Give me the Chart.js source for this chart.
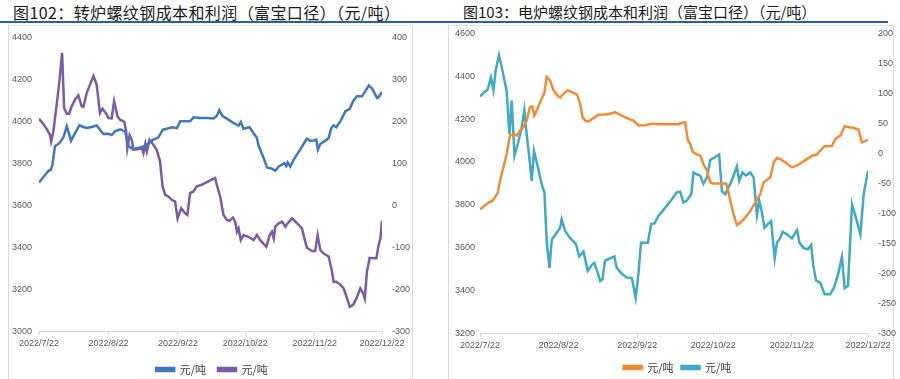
<!DOCTYPE html>
<html>
<head>
<meta charset="utf-8">
<script src="https://cdn.jsdelivr.net/npm/chart.js@4"></script>
<style>
  body { margin: 0; background: #fff; width: 900px; height: 379px; overflow: hidden; position: relative; font-family: "Noto Sans CJK SC", sans-serif; }
  .title { position: absolute; color: #1a1a1a; white-space: nowrap; }
  .rule { position: absolute; left: 0; top: 21px; width: 888px; height: 2px; background: #2b5ea8; }
  .box { position: absolute; top: 25px; height: 360px; border-left: 1px solid #dadada; border-right: 1px solid #dadada; border-top: 1px solid #e6e6e6; }
  canvas { position: absolute; }
</style>
</head>
<body>
<div class="title" style="left:13px; top:0px; font-size:16px; letter-spacing:0.4px;">图102：转炉螺纹钢成本和利润（富宝口径）（元/吨）</div>
<div class="title" style="left:463px; top:1px; font-size:15px;">图103：电炉螺纹钢成本和利润（富宝口径）（元/吨）</div>
<div class="rule"></div>
<div class="box" style="left:8px; width:403px;"></div>
<div class="box" style="left:448px; width:444px;"></div>
<canvas id="leftChart" width="404" height="367" style="left:8px; top:22px;"></canvas>
<canvas id="rightChart" width="452" height="371" style="left:448px; top:18px;"></canvas>
<script>
// tick labels on the date axis (days counted from 2022/7/22)
const tickDates = ['2022/7/22', '2022/8/22', '2022/9/22', '2022/10/22', '2022/11/22', '2022/12/22'];
const tickDays = [0, 31, 62, 92, 123, 153];
const seriesNames = ['元/吨', '元/吨'];

// 图102 转炉: cost (left axis) and profit (right axis)
const leftCostDays = [0,2.5,4.2,5.2,6,7.1,9.1,10.9,12.4,14.3,16.1,18,19.8,21.3,23.5,25.7,26.6,28.7,31,32.4,33.9,36.2,38.4,40,42.1,45.1,46.9,48.8,51,53.3,55.2,57,59.2,61.5,63,65.2,67.4,68.9,71.9,74.9,77.8,79.3,80.4,82,83.8,86.8,89,90,91.2,93.9,95.7,97.2,97.9,100.2,101.7,103.9,105.4,106.9,108.4,109.4,110.3,110.9,112.1,113.6,115,116.5,118,119.5,121,122.5,123.7,124.4,125.5,127.7,129.2,130.4,131.4,132.6,134.4,136.7,138.6,140.1,141.8,144.1,145.6,147.1,148.6,150.8,151.5,153];
const leftCost = [3709,3742,3764,3768,3793,3881,3896,3924,3976,3908,3944,3981,3973,3968,3973,3980,3968,3940,3941,3935,3952,3962,3952,3881,3868,3876,3881,3894,3913,3924,3960,3965,3972,3968,4000,4000,4000,4019,4016,4016,4014,4026,4053,4024,4013,3992,3980,3997,3965,3972,3944,3921,3886,3825,3780,3774,3764,3785,3793,3800,3787,3804,3785,3817,3841,3865,3892,3917,3908,3909,3913,3865,3892,3908,3921,3968,3981,3972,4000,4048,4059,4096,4120,4120,4144,4171,4156,4112,4115,4140];
const leftProfitDays = [0,1.9,3.4,4.9,5.4,6.4,7.9,9.1,10.3,11.2,12.4,13.4,14.6,16.1,17.6,19,19.8,21.3,22.8,24.3,25.7,27.2,28.3,29.5,31,32.4,33.5,35,36.2,38,38.9,39.4,40.4,41.4,42.1,44.4,45.9,46.6,47.4,48.1,49.3,51,52.5,54,55.1,56.3,57.7,59.2,60.7,61.8,63.4,65.2,66.2,67.4,68.9,70.4,72.6,74.9,77.1,78.6,79.3,80.8,81.6,82.3,83.8,85,86.5,87.5,88.3,89,90,91.2,93.4,95.7,97.2,98.7,101.4,102.9,103.9,104.7,105.4,106.9,108.4,109.9,110.9,112.9,114.4,115.9,117.3,118.4,119.5,121.8,123.2,124.3,125.5,127,129.2,130.7,131.4,132.6,134.4,135.9,137.4,138.6,140.1,141.6,143.3,144.6,145.3,146.3,147.5,149.3,150.5,151.5,152.3,153];
const leftProfit = [206,194,182,168,152,176,240,296,363,232,218,218,236,252,262,236,234,268,288,308,288,220,230,222,208,207,248,212,204,199,176,136,167,156,132,134,136,124,146,128,156,144,132,105,45,25,21,13,9,-31,-7,-19,-23,29,33,45,49,55,61,65,49,21,-3,-23,-35,-37,-29,-39,-63,-55,-83,-71,-75,-83,-71,-83,-99,-71,-63,-79,-51,-43,-39,-51,-43,-31,-39,-47,-55,-79,-101,-109,-109,-71,-107,-115,-122,-158,-182,-182,-189,-198,-222,-242,-237,-222,-198,-210,-222,-158,-125,-126,-126,-95,-79,-37];

// 图103 电炉: cost (left axis) and profit (right axis)
const rightCostDays = [0,1.7,3.3,4.9,5.9,7,7.9,9.2,10.5,11.8,13.2,14.5,15.8,17.1,18.4,19.7,20.7,21.4,22.4,23.7,25.4,26.3,27.6,29,30.9,31.6,32.9,34.6,36.2,38.2,39.5,40.4,41.7,43,44.7,46.7,49.1,51.3,53.3,55.3,57.9,60.5,62.5,65.1,67.8,70.4,74.3,78.3,79.9,80.9,82,82.9,83.8,85.1,86.9,88.1,89.5,90.8,92.1,94.7,97.1,97.7,98.7,100,101.3,102.6,104.6,106.6,108.5,110.5,111.8,113.1,114.5,115.8,117.1,118.4,120.4,123,125,127,128.9,130.9,132.9,134.2,135.8,138.8,140.1,142.1,143.8,145.4,147.3,149.3,150.6,152,153];
const rightCost = [3779,3794,3810,3818,3834,3857,3912,3974,4037,4123,4131,4123,4146,4162,4193,4256,4259,4217,4240,4279,4322,4397,4381,4334,4306,4300,4318,4334,4326,4315,4272,4209,4190,4190,4204,4220,4221,4225,4232,4220,4204,4193,4170,4171,4178,4176,4176,4176,4184,4185,4099,4084,4049,4037,4029,3990,3959,3904,3899,3899,3899,3873,3818,3755,3705,3716,3740,3771,3810,3849,3904,3915,3927,3998,4018,4013,3998,3974,3982,3998,4013,4029,4034,4053,4073,4074,4107,4123,4167,4162,4159,4150,4092,4097,4104];
const rightProfitDays = [0,1.7,3,4.3,5.3,6.2,7.5,8.8,10.5,11.6,12.5,13.6,14.9,16.2,17.5,18.4,19.3,20.4,21.3,22.8,24.3,25.4,26.3,27.4,28.3,30.3,31.6,32.2,33.6,35.5,37.8,39.1,40.8,42.5,44.1,45.1,46.4,47.4,48.3,49.3,51.3,53,53.9,54.6,55.9,57.9,59.9,61.4,62.5,63.5,64.8,66.2,67.5,68.8,70.4,73,75.6,77.6,78.9,80.2,81.5,83.3,84.2,85.5,86.8,88.1,89.5,90.8,92.5,94.3,95.4,96.7,98,99.3,101.3,102.2,103.5,104.8,106.6,107.9,109.2,110.1,110.9,112.2,113.5,114.8,116.2,117.1,118.4,119.3,121,123,125,126,127.6,129.3,130.6,131.3,132.5,134.2,135.9,138.1,139.5,141.2,142.7,143.8,145.1,146.7,148.6,150,151.3,153];
const rightProfit = [95,102,106,126,105,139,164,139,104,32,88,-4,16,38,72,32,-1,-46,4,-23,-51,-65,-146,-191,-144,-132,-124,-110,-130,-141,-151,-172,-164,-196,-186,-183,-199,-213,-210,-179,-175,-172,-191,-194,-201,-207,-208,-241,-199,-149,-149,-149,-118,-117,-104,-91,-77,-65,-64,-82,-79,-68,-32,-35,-37,-51,-40,-11,-7,-2,-63,-68,-57,-45,-22,-46,-32,-37,-32,-40,-103,-79,-93,-124,-118,-113,-175,-149,-141,-131,-135,-142,-128,-149,-158,-160,-153,-184,-212,-216,-235,-235,-225,-202,-173,-225,-221,-85,-113,-135,-68,-29];

const tickFont = { family: '"Liberation Sans", sans-serif', size: 9 };
const tickColor = '#595959';

function toPoints(days, vals) {
    const n = Math.min(days.length, vals.length);
    const pts = [];
    for (let i = 0; i < n; i++) pts.push({ x: days[i], y: vals[i] });
    return pts;
}

function makeChart(id, cfg) {
    const ctx = document.getElementById(id).getContext('2d');
    return new Chart(ctx, {
        type: 'line',
        data: {
            datasets: [
                {
                    label: seriesNames[0],
                    data: toPoints(cfg.costDays, cfg.cost),
                    borderColor: cfg.colors[0],
                    backgroundColor: cfg.colors[0],
                    borderWidth: 2.5,
                    pointRadius: 0,
                    yAxisID: 'y'
                },
                {
                    label: seriesNames[1],
                    data: toPoints(cfg.profitDays, cfg.profit),
                    borderColor: cfg.colors[1],
                    backgroundColor: cfg.colors[1],
                    borderWidth: 2.5,
                    pointRadius: 0,
                    yAxisID: 'y1'
                }
            ]
        },
        options: {
            responsive: false,
            animation: false,
            layout: { padding: { top: cfg.padTop, bottom: cfg.padBottom, left: cfg.padLeft, right: 0 } },
            plugins: {
                tooltip: { enabled: false },
                legend: {
                    position: 'bottom',
                    labels: {
                        boxWidth: 18,
                        boxHeight: 3,
                        padding: cfg.legendPad,
                        color: '#404040',
                        font: { family: '"Noto Sans CJK SC", sans-serif', size: 11 }
                    }
                }
            },
            scales: {
                x: {
                    type: 'linear',
                    min: 0,
                    max: 153,
                    afterBuildTicks: (s) => { s.ticks = tickDays.map(v => ({ value: v })); },
                    ticks: {
                        autoSkip: false,
                        maxRotation: 0,
                        padding: 3,
                        color: tickColor,
                        font: tickFont,
                        callback: (v) => tickDates[tickDays.indexOf(v)]
                    },
                    grid: { drawOnChartArea: false, drawTicks: true, tickLength: 4, color: '#d9d9d9' },
                    border: { color: '#d9d9d9' }
                },
                y: {
                    position: 'left',
                    min: cfg.yMin,
                    max: cfg.yMax,
                    ticks: { stepSize: 200, crossAlign: 'far', color: tickColor, font: tickFont, callback: (v) => String(v) },
                    grid: { display: false, drawTicks: false },
                    border: { display: false },
                    afterFit: (s) => { s.width = cfg.leftW; }
                },
                y1: {
                    position: 'right',
                    min: cfg.y1Min,
                    max: cfg.y1Max,
                    ticks: { stepSize: cfg.y1Step, padding: 10, color: tickColor, font: tickFont, callback: (v) => String(v) },
                    grid: { display: false, drawTicks: false },
                    border: { display: false },
                    afterFit: (s) => { s.width = cfg.rightW; }
                }
            }
        }
    });
}

window.onload = () => {
    makeChart('leftChart', {
        costDays: leftCostDays, cost: leftCost,
        profitDays: leftProfitDays, profit: leftProfit,
        colors: ['#3f78c2', '#7b5aa6'],
        yMin: 3000, yMax: 4400,
        y1Min: -300, y1Max: 400, y1Step: 100,
        padLeft: 4, leftW: 27, rightW: 30, padTop: 5, padBottom: 4, legendPad: 12
    });
    makeChart('rightChart', {
        costDays: rightCostDays, cost: rightCost,
        profitDays: rightProfitDays, profit: rightProfit,
        colors: ['#f58a34', '#3eaac6'],
        yMin: 3200, yMax: 4600,
        y1Min: -300, y1Max: 200, y1Step: 50,
        padLeft: 7, leftW: 25, rightW: 32, padTop: 2, padBottom: 6, legendPad: 8
    });
};
</script>
</body>
</html>
